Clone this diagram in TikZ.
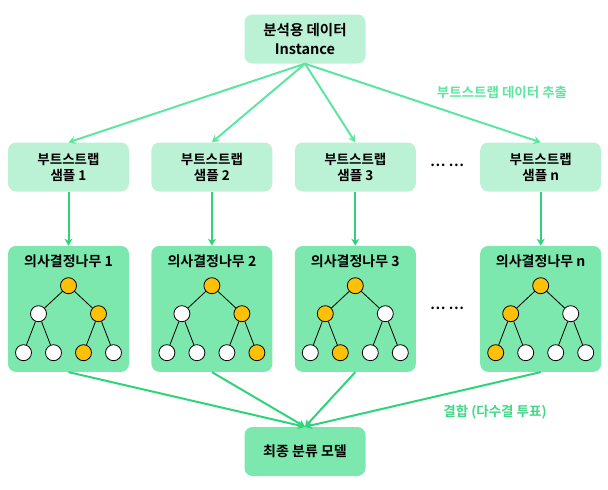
\documentclass[tikz,border=0pt]{standalone}
\usepackage{fontspec}
\setmainfont{Noto Sans CJK KR}[BoldFont={* Bold}]
\usetikzlibrary{positioning,arrows.meta}
\definecolor{mint}{HTML}{BBF2D6}
\definecolor{leafg}{HTML}{7DE8AD}
\definecolor{lightg}{HTML}{5EE6A0}
\definecolor{darkg}{HTML}{2ED47A}
\definecolor{gold}{HTML}{FFC107}

\begin{document}
\begin{tikzpicture}[x=1pt,y=-1pt,node distance=22pt,
	box/.style={rounded corners=8pt, fill=mint, minimum width=121pt, minimum height=49pt, align=center, font=\bfseries\fontsize{13.5}{16}\selectfont},
	treebox/.style={rounded corners=8pt, fill=leafg, minimum width=121pt, minimum height=126pt},
	knot/.style={circle, draw, line width=0.8pt, minimum size=16pt, inner sep=0pt},
	lab/.style={font=\bfseries\fontsize{13.5}{16}\selectfont},
	arr/.style={line width=2pt, -{Stealth[length=7pt,width=8pt]}}]
					\useasboundingbox (0,0) rectangle (608,490);

					\node[box, font=\bfseries\fontsize{14.5}{19}\selectfont] (top) at (305,39) {분석용 데이터\\Instance};
					\node[box] (s1) at (68.5,167) {부트스트랩\\샘플 1};
					\node[box] (s2)[right=22pt of s1] {부트스트랩\\샘플 2};
					\node[box] (s3)[right=22pt of s2] {부트스트랩\\샘플 3};
					\node[box] (s4)[right=64pt of s3] {부트스트랩\\샘플 n};

					\node[treebox] (t1)[below=54pt of s1] {};
					\node[treebox] (t2)[below=54pt of s2] {};
					\node[treebox] (t3)[below=54pt of s3] {};
					\node[treebox] (t4)[below=54pt of s4] {};

					\node[box, fill=leafg, font=\bfseries\fontsize{14}{16}\selectfont] (fin) at (305,451.5) {최종 분류 모델};

					\node[font=\bfseries\fontsize{14}{16}\selectfont] (dots1) at (447,165) {… …};
					\node[font=\bfseries\fontsize{14}{16}\selectfont] (dots2) at (447,308) {… …};

					\node[lab, text=lightg] (extract) at (502,92) {부트스트랩 데이터 추출};
					\node[lab, text=darkg!90] (vote) at (495,412) {결합 (다수결 투표)};

					% trees: root, two children, four leaves
					\foreach \t/\k/\a/\b/\c/\d/\e/\f in {1/1/white/gold/white/white/gold/white, 2/2/white/gold/white/white/white/gold, 3/3/gold/white/white/gold/white/white, 4/n/gold/white/gold/white/white/white} {
						\begin{scope}[shift={(t\t.north)}]
							\node[box, fill=none, font=\bfseries\fontsize{14}{16}\selectfont] (h\t) at (0,16) {의사결정나무 \k};
							\node[knot, fill=gold] (r\t) at (0,40) {};
							\node[knot, fill=\a] (a\t) at (-30,68) {};
							\node[knot, fill=\b] (b\t) at (30,68) {};
							\node[knot, fill=\c] (c\t) at (-45,107) {};
							\node[knot, fill=\d] (d\t) at (-15,107) {};
							\node[knot, fill=\e] (e\t) at (15,107) {};
							\node[knot, fill=\f] (f\t) at (45,107) {};
						\end{scope}
						\path[draw, line width=0.8pt]
						(r\t) edge (a\t)
						(r\t) edge (b\t)
						(a\t) edge (c\t)
						(a\t) edge (d\t)
						(b\t) edge (e\t)
						(b\t) edge (f\t)
						;
					}

					\foreach \t in {1,2,3,4} {
						\draw[arr, lightg] (top.south) -- (s\t.north);
						\draw[arr, darkg] (s\t.south) -- (t\t.north);
						\draw[arr, darkg] (t\t.south) -- (fin.north);
					}
				\end{tikzpicture}
\end{document}
